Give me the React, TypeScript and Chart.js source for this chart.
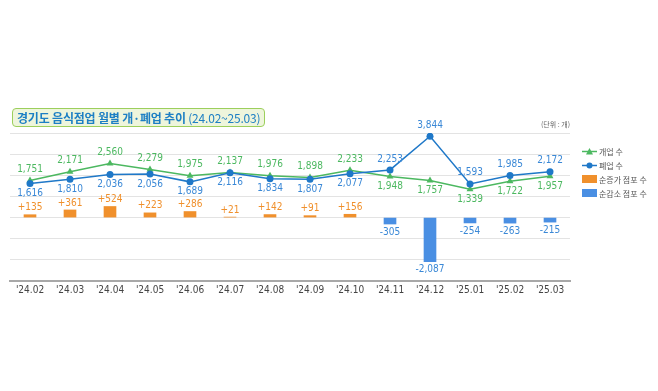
import React, { useEffect, useRef } from "react";
import { Chart, registerables } from "chart.js";

Chart.register(...registerables);

const categories = ["'24.02", "'24.03", "'24.04", "'24.05", "'24.06", "'24.07", "'24.08", "'24.09", "'24.10", "'24.11", "'24.12", "'25.01", "'25.02", "'25.03"];
const openings = [1751, 2171, 2560, 2279, 1975, 2137, 1976, 1898, 2233, 1948, 1757, 1339, 1722, 1957];
const closings = [1616, 1810, 2036, 2056, 1689, 2116, 1834, 1807, 2077, 2253, 3844, 1593, 1985, 2172];
const netIncrease = [135, 361, 524, 223, 286, 21, 142, 91, 156, null, null, null, null, null];
const netDecrease = [null, null, null, null, null, null, null, null, null, -305, -2087, -254, -263, -215];

const GREEN = "#4cb860";
const BLUE_LINE = "#1f78c8";
const BLUE_LABEL = "#3a88d6";
const ORANGE = "#f0902c";
const BLUE_BAR = "#4a8fe3";
const FONT = '"Liberation Sans Narrow", "DejaVu Sans Condensed", "Roboto", sans-serif';

const fmt = (v: number) => v.toLocaleString("en-US");

const labelPlugin = {
  id: "valueLabels",
  afterDatasetsDraw(chart: any) {
    const ctx = chart.ctx;
    ctx.save();
    ctx.font = `10px ${FONT}`;
    ctx.textAlign = "center";
    ctx.textBaseline = "middle";
    const mOpen = chart.getDatasetMeta(0);
    const mClose = chart.getDatasetMeta(1);
    const mInc = chart.getDatasetMeta(2);
    const mDec = chart.getDatasetMeta(3);
    categories.forEach((_, i) => {
      const po = mOpen.data[i];
      const pc = mClose.data[i];
      const openHigher = openings[i] >= closings[i];
      ctx.fillStyle = GREEN;
      ctx.fillText(fmt(openings[i]), po.x, openHigher ? po.y - 11 : po.y + 10);
      ctx.fillStyle = BLUE_LABEL;
      ctx.fillText(fmt(closings[i]), pc.x, openHigher ? pc.y + 10 : pc.y - 11);
      const inc = netIncrease[i];
      if (inc != null) {
        const b = mInc.data[i];
        ctx.fillStyle = ORANGE;
        ctx.fillText("+" + fmt(inc), b.x, b.y - 7);
      }
      const dec = netDecrease[i];
      if (dec != null) {
        const b = mDec.data[i];
        ctx.fillStyle = BLUE_LABEL;
        ctx.fillText(fmt(dec), b.x, b.y + 8);
      }
    });
    ctx.restore();
  },
};

export default function App() {
  const ref = useRef<HTMLCanvasElement>(null);
  useEffect(() => {
    if (!ref.current) return;
    const chart = new Chart(ref.current, {
      type: "bar",
      data: {
        labels: categories,
        datasets: [
          {
            type: "line",
            label: "개업 수",
            data: openings,
            borderColor: GREEN,
            backgroundColor: GREEN,
            borderWidth: 1.5,
            pointStyle: "triangle",
            pointRadius: 4,
            pointBackgroundColor: GREEN,
            pointBorderWidth: 0,
            order: 1,
          } as any,
          {
            type: "line",
            label: "폐업 수",
            data: closings,
            borderColor: BLUE_LINE,
            backgroundColor: BLUE_LINE,
            borderWidth: 1.5,
            pointStyle: "circle",
            pointRadius: 3.5,
            pointBackgroundColor: BLUE_LINE,
            pointBorderWidth: 0,
            order: 0,
          } as any,
          {
            type: "bar",
            label: "순증가 점포 수",
            data: netIncrease,
            backgroundColor: ORANGE,
            barThickness: 12,
            grouped: false,
            order: 2,
          } as any,
          {
            type: "bar",
            label: "순감소 점포 수",
            data: netDecrease,
            backgroundColor: BLUE_BAR,
            barThickness: 12,
            grouped: false,
            order: 2,
          } as any,
        ],
      },
      options: {
        animation: false,
        responsive: false,
        maintainAspectRatio: false,
        layout: { padding: { top: 133, left: 10, right: 88, bottom: 92 } },
        plugins: {
          legend: { display: false },
          tooltip: { enabled: false },
          title: { display: false },
        },
        scales: {
          x: {
            grid: { display: false, drawTicks: false },
            border: { display: true, color: "#a8a8a8", width: 2 },
            ticks: { color: "#444", font: { family: FONT, size: 10 }, padding: 3 },
          },
          y: {
            min: -3000,
            max: 4000,
            ticks: { display: false, stepSize: 1000 },
            grid: { color: "#e3e3e3", drawTicks: false },
            border: { display: false },
          },
        },
      },
      plugins: [labelPlugin],
    });
    return () => chart.destroy();
  }, []);

  const legendItems = [
    { label: "개업 수", kind: "line", color: GREEN, marker: "tri" },
    { label: "폐업 수", kind: "line", color: BLUE_LINE, marker: "dot" },
    { label: "순증가 점포 수", kind: "box", color: ORANGE },
    { label: "순감소 점포 수", kind: "box", color: BLUE_BAR },
  ];

  return (
    <div style={{ position: "fixed", left: 0, top: 0, width: 658, height: 391, background: "#fff", fontFamily: '"Noto Sans CJK KR", sans-serif' }}>
      <canvas ref={ref} width={658} height={391} style={{ position: "absolute", left: 0, top: 0 }} />
      <div
        style={{
          position: "absolute",
          left: 12,
          top: 108,
          height: 17,
          padding: "0 4px",
          background: "#eef5dc",
          border: "1.5px solid #9ccf5c",
          borderRadius: 4,
          color: "#1d7fc4",
          fontSize: 12,
          lineHeight: "17px",
          whiteSpace: "nowrap",
          letterSpacing: -0.2,
        }}
      >
        <b>경기도 음식점업 월별 개·폐업 추이</b> <span style={{ fontWeight: 400 }}>(24.02~25.03)</span>
      </div>
      <div style={{ position: "absolute", left: 541, top: 119, fontSize: 7, color: "#666", whiteSpace: "nowrap" }}>(단위 : 개)</div>
      <div style={{ position: "absolute", left: 582, top: 144 }}>
        {legendItems.map((it, i) => (
          <div key={i} style={{ display: "flex", alignItems: "center", height: 14, fontSize: 8, color: "#555", whiteSpace: "nowrap" }}>
            {it.kind === "line" ? (
              <svg width={15} height={9} style={{ marginRight: 2 }}>
                <line x1={0} y1={4.5} x2={15} y2={4.5} stroke={it.color} strokeWidth={1.5} />
                {it.marker === "tri" ? (
                  <polygon points="7.5,1 11,7.5 4,7.5" fill={it.color} />
                ) : (
                  <circle cx={7.5} cy={4.5} r={3} fill={it.color} />
                )}
              </svg>
            ) : (
              <div style={{ width: 15, height: 8, background: it.color, marginRight: 2 }} />
            )}
            <span>{it.label}</span>
          </div>
        ))}
      </div>
    </div>
  );
}
